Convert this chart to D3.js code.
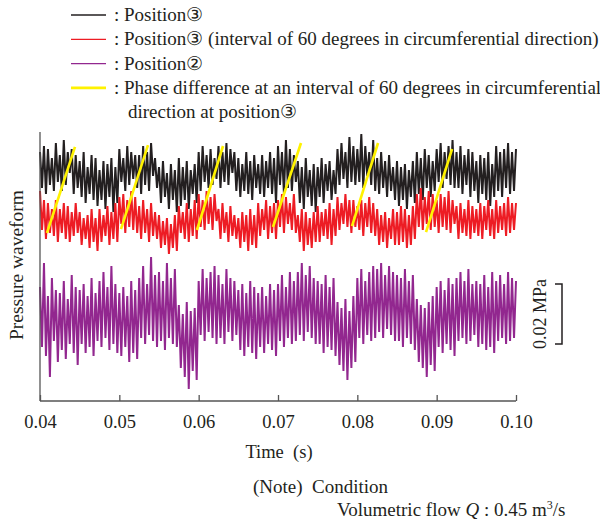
<!DOCTYPE html>
<html lang="en">
<head>
<meta charset="utf-8">
<title>Pressure waveform</title>
<style>
  body { margin: 0; background: #fff; }
  svg { position: absolute; top: 0; left: 0; }
  text { font-family: "Liberation Serif", "Times New Roman", serif; fill: #231f20; }
  .axis path, .axis line { stroke: #555; stroke-width: 1.3; }
</style>
<script src="https://d3js.org/d3.v7.min.js"></script>
</head>
<body>
<script>
// sample spacing 0.25 ms, from 0.04 s to 0.10 s (241 samples), pressure deviation in kPa
var t0 = 0.04, dt = 0.00025;
var xTicks = [0.04, 0.05, 0.06, 0.07, 0.08, 0.09, 0.10];

// Position 3
var blackP = [8,-4,10,-6,9,-3,6,-5,11,-2, 7,-5,12,-3,8,1,9,-6,7,-4, 5,-7,8,-9,3,-6,7,-8,6,-10,
  2,-8,5,-11,4,-7,6,-12,3,-9, 9,-2,6,-5,10,-3,8,-1,7,-4, 7,-6,10,-3,8,-5,11,0,6,-4,
  3,-9,5,-7,1,-11,4,-8,2,-12, 6,-10,3,-8,5,-11,2,-6,4,-9, 8,-5,10,-2,7,-4,9,-3,6,-1,
  10,-4,8,-2,11,-3,9,1,8,-5, 6,-7,4,-5,8,-6,5,-8,7,-4, 4,-6,7,-7,5,-4,8,-6,6,-9,
  10,-3,8,-6,12,-4,9,-5,7,-2, 5,-9,3,-11,6,-7,2,-10,4,-12, 3,-7,6,-9,4,-5,5,-8,2,-6,
  9,-3,11,-1,8,-4,13,-2,10,-3, 9,-2,14,-4,10,0,8,-3,12,-5, 6,-6,8,-4,5,-7,7,-5,3,-8,
  5,-10,3,-8,4,-11,2,-7,5,-9, 8,-6,6,-8,9,-4,7,-7,5,-5, 9,-2,11,-4,8,-1,10,-3,12,-4,
  8,-4,10,-6,7,-3,9,-7,8,-5, 5,-9,7,-6,6,-8,8,-10,4,-7, 10,-5,8,-7,9,-4,11,-6,8,-5,9];

// Position 3, 60 degrees apart in circumferential direction
var redP = [8,-5,5,-8,4,-6,2,-7,5,-9, 2,-6,4,-8,3,-9,1,-7,4,-6, 1,-10,-1,-8,0,-11,2,-9,-1,-12,
  2,-9,0,-7,3,-10,1,-8,4,-9, 6,-3,7,-6,5,-4,8,-5,6,-6, 3,-8,5,-6,2,-9,4,-7,1,-8,
  0,-11,-2,-10,-1,-13,-3,-11,0,-12, 3,-6,1,-8,4,-9,2,-7,5,-8, 7,-4,5,-5,8,-3,6,-5,7,-2,
  2,-8,4,-6,1,-9,3,-7,0,-8, -1,-11,1,-9,0,-12,2,-10,0,-11, 4,-7,2,-5,5,-8,3,-6,4,-8,
  5,-4,7,-6,6,-3,4,-5,7,-6, 0,-9,2,-12,1,-10,-1,-11,1,-9, 3,-9,1,-7,2,-8,4,-10,2,-7,
  6,-5,4,-3,7,-4,5,-6,5,-4, 3,-5,5,-7,4,-4,6,-6,4,-7, 2,-10,0,-9,1,-11,-1,-8,2,-10,
  1,-10,3,-9,2,-11,0,-10,3,-8, 7,-4,9,-5,6,-3,8,-5,7,-4, 5,-6,7,-4,6,-5,8,-6,5,-3,
  3,-8,4,-6,2,-7,5,-8,3,-6, 2,-7,4,-8,3,-5,5,-7,2,-8, 5,-6,3,-5,4,-7,6,-6,4,-5,4];

// Position 2
var purpleP = [12,-8,20,-11,9,-18,15,-6,11,-13, 10,-9,14,-12,8,-7,16,-10,12,-14, 11,-7,13,-10,9,-8,15,-11,10,-6,
  14,-8,17,-5,12,-9,19,-7,13,-10, 10,-11,12,-8,9,-13,14,-10,11,-12, 15,-5,19,-7,13,-4,22,-6,16,-8,
  17,-6,14,-9,20,-5,15,-7,18,-8, 6,-15,3,-18,7,-22,4,-16,5,-19, 14,-4,18,-6,15,-3,17,-5,19,-7,
  16,-5,13,-7,18,-3,15,-6,14,-4, 11,-9,13,-11,10,-8,14,-10,12,-12, 10,-8,12,-10,9,-7,13,-9,11,-11,
  13,-6,16,-8,12,-5,17,-7,14,-6, 17,-4,20,-6,16,-3,19,-5,15,-7, 14,-7,13,-10,16,-8,12,-9,15,-11,
  7,-14,5,-16,8,-19,4,-15,9,-13, 15,-5,18,-7,14,-4,17,-6,19,-5, 18,-3,20,-5,16,-2,19,-4,17,-6,
  16,-6,15,-8,18,-5,14,-7,16,-9, 8,-13,6,-15,5,-18,7,-14,9,-16, 12,-8,14,-10,11,-7,15,-9,13,-11,
  15,-6,17,-5,14,-7,18,-6,13,-4, 14,-8,13,-7,16,-9,12,-8,17,-10, 14,-6,16,-5,13,-7,17,-6,15,-5,14];

// display level of each trace (kPa)
var levels = [75, 62, 26];
var colors = ["#231f20", "#ed1c24", "#92278f"];

// yellow phase lines: start/end time (s) and level (kPa)
var phaseT0 = [0.04088, 0.05021, 0.05979, 0.06937, 0.07933, 0.08866];
var phaseT1 = [0.04441, 0.05361, 0.06307, 0.07290, 0.08261, 0.09194];
var phaseV0 = [56.0, 57.3, 57.0, 58.0, 58.3, 56.3];
var phaseV1 = [84.7, 85.3, 85.0, 86.0, 86.0, 84.0];

var legendLabels = [": Position\u2462",
  ": Position\u2462 (interval of 60 degrees in circumferential direction)",
  ": Position\u2461",
  ": Phase difference at an interval of 60 degrees in circumferential"];
var legendColors = ["#231f20", "#ed1c24", "#92278f", "#fff200"];

var width = 600, height = 522;
var svg = d3.select("body").append("svg").attr("width", width).attr("height", height);

var x = d3.scaleLinear().domain([0.04, 0.10]).range([40, 516]);
var y = d3.scaleLinear().domain([0, 90]).range([401, 131]);

// traces
var series = [blackP, redP, purpleP];
series.forEach(function(s, k) {
  var line = d3.line()
    .x(function(d, i) { return x(t0 + i * dt); })
    .y(function(d) { return y(levels[k] + d); });
  svg.append("path").datum(s)
    .attr("d", line)
    .style("fill", "none")
    .style("stroke", colors[k])
    .style("stroke-width", 2)
    .style("stroke-linejoin", "bevel");
});

// phase lines
for (var i = 0; i < phaseT0.length; i++) {
  svg.append("line")
    .attr("x1", x(phaseT0[i])).attr("y1", y(phaseV0[i]))
    .attr("x2", x(phaseT1[i])).attr("y2", y(phaseV1[i]))
    .style("stroke", "#fff200").style("stroke-width", 2.6);
}

// axes
var xAxis = d3.axisBottom(x).tickValues(xTicks).tickSize(-6).tickPadding(14)
  .tickFormat(d3.format(".2f"));
var gx = svg.append("g").attr("class", "axis").attr("transform", "translate(0,401)").call(xAxis);
gx.select(".domain").attr("d", "M40,0H516");
gx.selectAll(".tick text").style("font-size", "18.5px")
  .style("font-family", "'Liberation Serif', serif").attr("fill", "#231f20");

svg.append("line").attr("x1", 40).attr("x2", 40).attr("y1", 132).attr("y2", 401)
  .style("stroke", "#555").style("stroke-width", 1.3);

svg.append("text").attr("x", 279).attr("y", 458).attr("text-anchor", "middle")
  .style("font-size", "18.5px").text("Time\u00a0\u00a0(s)");

svg.append("text").attr("transform", "translate(23,265) rotate(-90)")
  .attr("text-anchor", "middle").style("font-size", "19.5px").text("Pressure waveform");

// 0.02 MPa scale bar
var sb = svg.append("g");
sb.append("path")
  .attr("d", "M555," + y(39) + "H562V" + y(19) + "H555")
  .style("fill", "none").style("stroke", "#231f20").style("stroke-width", 1.5);
sb.append("text").attr("transform", "translate(546," + y(29) + ") rotate(-90)")
  .attr("text-anchor", "middle").style("font-size", "18px").text("0.02 MPa");

// legend
var lg = svg.append("g");
legendLabels.forEach(function(l, i) {
  var ly = 15 + i * 24.3;
  lg.append("line").attr("x1", 71).attr("x2", 106).attr("y1", ly).attr("y2", ly)
    .style("stroke", legendColors[i]).style("stroke-width", i == 3 ? 2.6 : 1.3);
  lg.append("text").attr("x", 114).attr("y", ly + 6).style("font-size", "19px").text(l);
});
lg.append("text").attr("x", 128).attr("y", 15 + 4 * 24.3 + 6).style("font-size", "19px")
  .text("direction at position\u2462");

// note
svg.append("text").attr("x", 253).attr("y", 493).style("font-size", "19px")
  .text("(Note)\u00a0\u00a0Condition");
var nt = svg.append("text").attr("x", 337).attr("y", 516).style("font-size", "19px");
nt.append("tspan").text("Volumetric flow ");
nt.append("tspan").style("font-style", "italic").text("Q");
nt.append("tspan").text(" : 0.45 m");
nt.append("tspan").attr("dy", -7).style("font-size", "12px").text("3");
nt.append("tspan").attr("dy", 7).text("/s");
</script>
</body>
</html>
